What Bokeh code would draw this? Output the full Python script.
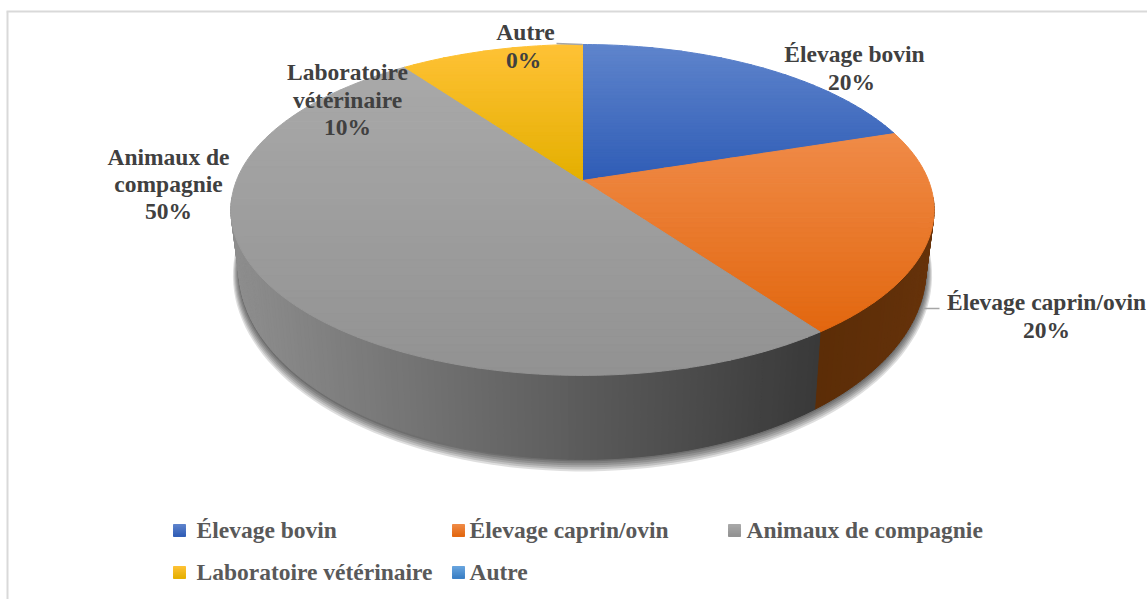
import math
from bokeh.plotting import figure
from bokeh.models import ColumnDataSource, Range1d
from bokeh.core.properties import value
from bokeh.embed import file_html
from bokeh.resources import INLINE

categories = ["Élevage bovin", "Élevage caprin/ovin", "Animaux de compagnie", "Laboratoire vétérinaire", "Autre"]
shares = [20, 20, 50, 10, 0]
pct_labels = ["20%", "20%", "50%", "10%", "0%"]
label_lines = [["Élevage bovin"], ["Élevage caprin/ovin"], ["Animaux de", "compagnie"], ["Laboratoire", "vétérinaire"], ["Autre"]]

FONT = value("Liberation Serif")
top_cols = ["#5F84CC", "#F08B48", "#A9A9A9", "#FFC236", "#6AA5DF"]
bot_cols = ["#2F5DB6", "#E2670F", "#929292", "#E4AF00", "#3A7FC4"]

CX, CY, KP = 582.0, 180.0, 0.178
A1, B1 = 346.0, 160.2
A2, B2, Y2 = 338.0, 184.0, 235.0

W, H = 1147, 599
p = figure(width=W, height=H, x_range=Range1d(0, W), y_range=Range1d(H, 0),
           output_backend="svg", toolbar_location=None, min_border=0, outline_line_color=None)
p.axis.visible = False
p.grid.visible = False


def top_pt(deg):
    t = math.radians(deg)
    d = 1 + KP * math.cos(t)
    return CX + A1 * math.sin(t) / d, CY - B1 * math.cos(t) / d


def low_pt(deg, grow=0.0):
    t = math.radians(deg)
    d = 1 + KP * math.cos(t)
    return CX + (A2 + grow) * math.sin(t) / d, Y2 + 0.8 * grow - (B2 + grow) * math.cos(t) / d


def mix(c1, c2, f):
    f = max(0, min(1, f))
    a = [int(c1[i:i + 2], 16) for i in (1, 3, 5)]
    b = [int(c2[i:i + 2], 16) for i in (1, 3, 5)]
    return "#%02x%02x%02x" % tuple(round(u + (v - u) * f) for u, v in zip(a, b))


def clip(poly, y, keep_below):
    out = []
    ins = (lambda q: q[1] >= y) if keep_below else (lambda q: q[1] <= y)
    for i, cur in enumerate(poly):
        prv = poly[i - 1]
        if ins(cur) != ins(prv):
            f = (y - prv[1]) / (cur[1] - prv[1])
            out.append((prv[0] + (cur[0] - prv[0]) * f, y))
        if ins(cur):
            out.append(cur)
    return out


def banded(poly, c1, c2, n=40):
    ylo, yhi = min(q[1] for q in poly), max(q[1] for q in poly)
    xs, ys, cs = [], [], []
    for i in range(n):
        a = ylo + (yhi - ylo) * i / n
        b = ylo + (yhi - ylo) * (i + 1) / n
        part = clip(clip(poly, a, True), b, False)
        if len(part) >= 3:
            xs.append([q[0] for q in part])
            ys.append([q[1] for q in part])
            cs.append(mix(c1, c2, (i + .5) / n))
    return xs, ys, cs


def draw(xs, ys, cs):
    p.patches("x", "y", source=ColumnDataSource(dict(x=xs, y=ys, c=cs)),
              fill_color="c", line_color="c", line_width=1)


# frame
p.line([7, 7], [11, 599], line_color="#D9D9D9", line_width=2)
p.line([6, 1147], [11, 11], line_color="#D9D9D9", line_width=2)

# cumulative angles, from the shares
tot = sum(shares)
angs = [0.0]
for s in shares:
    angs.append(angs[-1] + 360.0 * s / tot)

# soft shadow under the rim
RIM = [85 + i * 2 for i in range(96)]
for g in range(1, 7):
    pts = [low_pt(d, g) for d in RIM]
    p.patch([q[0] for q in pts], [q[1] for q in pts], fill_color="#000000", fill_alpha=0.13, line_color=None)

# side wall: strips round the visible part of the rim
xs, ys, cs = [], [], []
for d in range(96, 264):
    a, b = d, d + 1
    q = [top_pt(a), top_pt(b), low_pt(b), low_pt(a)]
    xs.append([u[0] for u in q])
    ys.append([u[1] for u in q])
    mid = d + .5
    if mid < angs[2]:
        cs.append(mix("#6B350C", "#5C2D07", (mid - 96) / 48))
    else:
        f = (q[0][0] - 232) / (820 - 232)
        cs.append(mix("#8E8E8E", "#393939", f))
draw(xs, ys, cs)

# top face
for i in range(len(shares)):
    if shares[i] == 0:
        continue
    n = max(3, int(angs[i + 1] - angs[i]))
    poly = [(CX, CY)] + [top_pt(angs[i] + (angs[i + 1] - angs[i]) * k / n) for k in range(n + 1)]
    draw(*banded(poly, top_cols[i], bot_cols[i]))

# leader lines
p.line([556, 582], [43, 44], line_color="#A6A6A6", line_width=1.5)
p.line([923, 939], [308, 308], line_color="#A6A6A6", line_width=1.5)

# data labels
label_x = [[854, 851], [1046, 1046], [168, 168, 168], [347, 347, 347], [525, 523]]
label_y = [[53.5, 81.5], [301.5, 329.5], [156.5, 183.5, 210.5], [71.5, 99.5, 126.5], [31.5, 59.5]]
for i in range(len(categories)):
    lines = label_lines[i] + [pct_labels[i]]
    p.text(label_x[i], label_y[i], text=lines, text_font=FONT, text_font_style="bold",
           text_font_size="23.5px", text_color="#404040", text_align="center", text_baseline="middle")

# legend
leg_x = [173, 452, 728, 173, 452]
leg_y = [524, 524, 524, 566, 566]
txt_x = [196, 469, 746, 196, 469]
for i in range(len(categories)):
    x0, y0 = leg_x[i], leg_y[i]
    sq = [(x0, y0), (x0 + 12, y0), (x0 + 12, y0 + 12), (x0, y0 + 12)]
    draw(*banded(sq, top_cols[i], bot_cols[i], n=8))
    p.text([txt_x[i]], [y0 + 5], text=[categories[i]], text_font=FONT, text_font_style="bold",
           text_font_size="23.5px", text_color="#595959", text_align="left", text_baseline="middle")

open("out.html", "w").write(file_html(p, INLINE))
